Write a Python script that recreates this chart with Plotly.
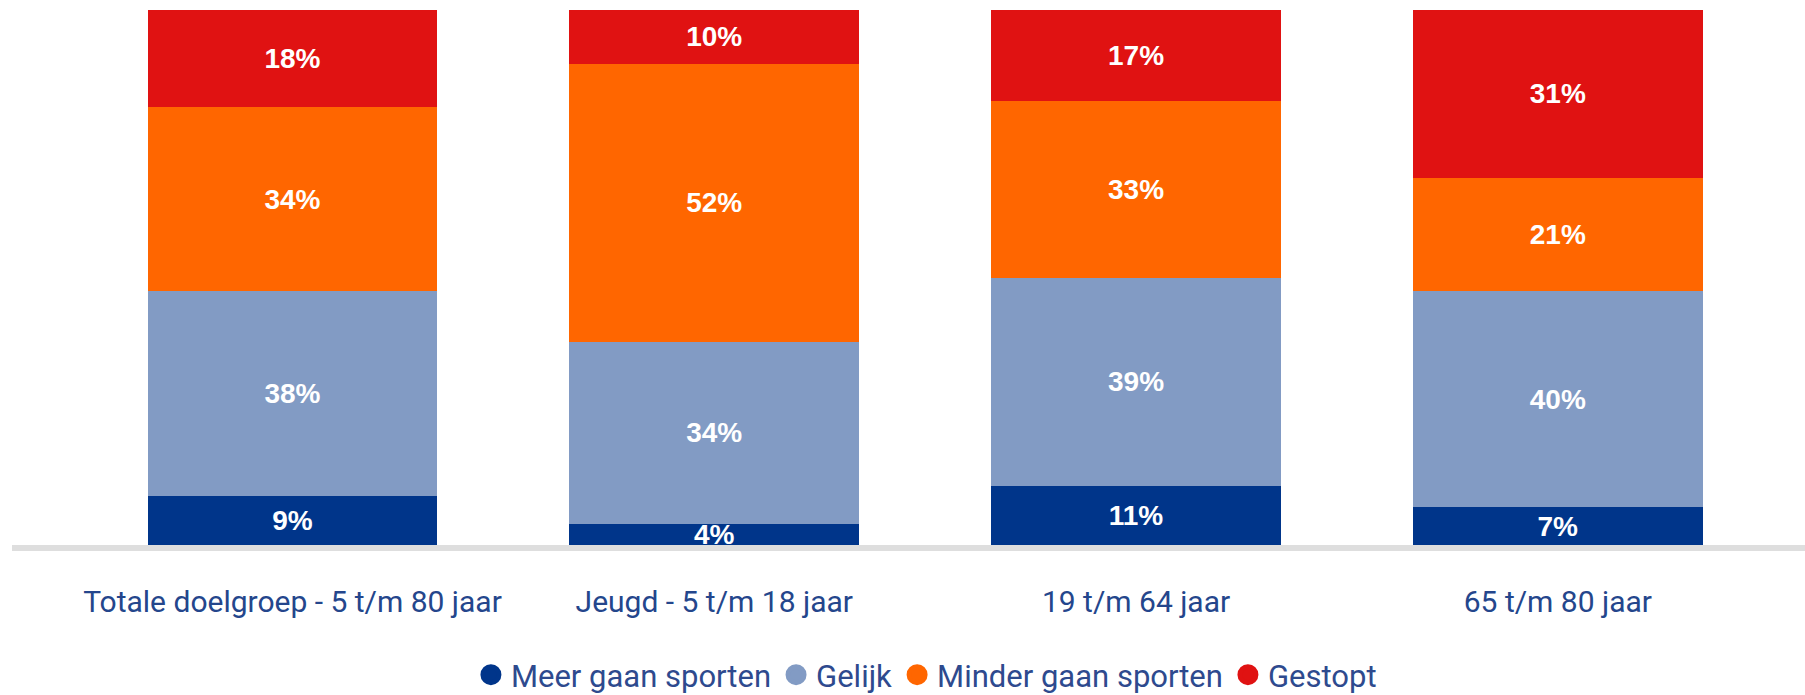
import plotly.graph_objects as go

categories = ["Totale doelgroep - 5 t/m 80 jaar", "Jeugd - 5 t/m 18 jaar",
              "19 t/m 64 jaar", "65 t/m 80 jaar"]
series_names = ["Meer gaan sporten", "Gelijk", "Minder gaan sporten", "Gestopt"]
meer = [9, 4, 11, 7]
gelijk = [38, 34, 39, 40]
minder = [34, 52, 33, 21]
gestopt = [18, 10, 17, 31]
colors = ["#00358a", "#829bc4", "#ff6600", "#e01212"]

series_values = [meer, gelijk, minder, gestopt]

fig = go.Figure()
for name, vals, col in zip(series_names, series_values, colors):
    fig.add_trace(go.Bar(
        x=categories, y=vals, name=name,
        marker=dict(color=col, line=dict(width=0)),
        width=0.6875,
        text=[f"{v}%" for v in vals],
        textposition="inside",
        insidetextanchor="middle",
        constraintext="none",
        textangle=0,
        insidetextfont=dict(family="Liberation Sans", size=28, color="white", weight="bold"),
        showlegend=False,
        hoverinfo="skip",
    ))

# legend entries with round markers
for name, col in zip(series_names, colors):
    fig.add_trace(go.Scatter(
        x=[None], y=[None], mode="markers", name=name,
        marker=dict(symbol="circle", size=16, color=col, line=dict(color=col, width=5)),
        showlegend=True,
    ))

fig.update_layout(
    barmode="stack",
    barnorm="percent",
    width=1805, height=695,
    margin=dict(l=12, r=0, t=10, b=150, autoexpand=False),
    plot_bgcolor="white",
    paper_bgcolor="white",
    xaxis=dict(
        type="category",
        range=[-0.665, 3.586],
        showline=True, linecolor="#dedede", linewidth=6,
        showgrid=False, zeroline=False, ticks="",
        ticklabelstandoff=25,
        tickfont=dict(family="Roboto", size=30, color="#24468c"),
    ),
    yaxis=dict(range=[0, 100], visible=False, showgrid=False, zeroline=False),
    legend=dict(
        orientation="h", x=0.51, xanchor="center", y=-0.243, yanchor="middle",
        traceorder="normal",
        font=dict(family="Roboto", size=31, color="#2e4a8e"),
        itemwidth=30, tracegroupgap=0, itemclick=False,
        bgcolor="rgba(0,0,0,0)",
    ),
    showlegend=True,
)

fig.write_html("out.html")
